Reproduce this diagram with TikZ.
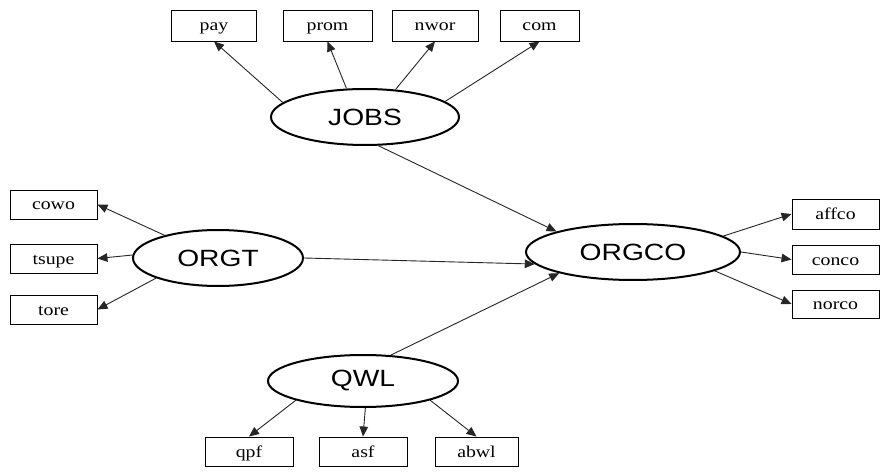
\documentclass[tikz,border=0pt]{standalone}
\usepackage{fontspec}
\newfontfamily\ellfont[FakeStretch=1.2]{Liberation Sans}
\newfontfamily\boxfont[FakeStretch=1.2]{Liberation Serif}
\usetikzlibrary{arrows.meta,shapes.geometric}
\tikzset{
  var/.style={draw, line width=0.9pt, minimum height=29pt, inner sep=0pt,
    text height=11pt, text depth=0pt,
    font=\boxfont\fontsize{16.5}{16.5}\selectfont},
  lat/.style={ellipse, draw, line width=2pt, inner sep=0pt,
    font=\ellfont\fontsize{23.5}{23.5}\selectfont},
  arr/.style={-{Triangle[length=10pt,width=8.5pt]}, line width=0.9pt, draw=black!85}
}
\begin{document}
\begin{tikzpicture}[x=1pt,y=1pt]
\path[use as bounding box, fill=white] (0,0) rectangle (886,472);
% latent nodes
\node[lat, minimum width=188pt, minimum height=56pt] (jobs) at (365,355) {JOBS};
\node[lat, minimum width=170pt, minimum height=56pt] (orgt) at (218,214) {ORGT};
\node[lat, minimum width=214pt, minimum height=56pt] (orgco) at (633,220) {ORGCO};
\node[lat, minimum width=190pt, minimum height=52pt] (qwl) at (363,91) {QWL};
% top boxes
\node[var, minimum width=85pt, minimum height=31pt] (pay) at (214,446.5) {pay};
\node[var, minimum width=89pt, minimum height=31pt] (prom) at (327.5,446.5) {prom};
\node[var, minimum width=86pt, minimum height=31pt] (nwor) at (435,446.5) {nwor};
\node[var, minimum width=79pt, minimum height=31pt] (com) at (539.5,446.5) {com};
% left boxes
\node[var, minimum width=87pt] (cowo) at (53.5,267.5) {cowo};
\node[var, minimum width=87pt] (tsupe) at (53.5,213.5) {tsupe};
\node[var, minimum width=87pt] (tore) at (53.5,162.5) {tore};
% right boxes
\node[var, minimum width=87pt, minimum height=30pt] (affco) at (835.5,258) {affco};
\node[var, minimum width=87pt] (conco) at (835.5,212.5) {conco};
\node[var, minimum width=87pt, minimum height=28pt] (norco) at (835.5,168) {norco};
% bottom boxes
\node[var, minimum width=88pt] (qpf) at (249,20.5) {qpf};
\node[var, minimum width=88pt] (asf) at (363,20.5) {asf};
\node[var, minimum width=83pt] (abwl) at (476.5,20.5) {abwl};
% JOBS indicators
\draw[arr] (jobs.170) -- (pay.south);
\draw[arr] (jobs.123) -- (prom.south);
\draw[arr] (jobs.42) -- (nwor.south);
\draw[arr] (jobs.11) -- (com.south);
% ORGT indicators
\draw[arr] (orgt.157) -- (cowo.east);
\draw[arr] (orgt.178) -- (tsupe.east);
\draw[arr] (orgt.198) -- (tore.east);
% ORGCO indicators
\draw[arr] (orgco.10) -- (affco.west);
\draw[arr] (orgco.0) -- (conco.west);
\draw[arr] (orgco.-13) -- (norco.west);
% QWL indicators
\draw[arr] (qwl.196) -- (qpf.north);
\draw[arr] (qwl.-85) -- (asf.north);
\draw[arr] (qwl.-16) -- (abwl.north);
% structural paths
\draw[arr] (jobs.-65) -- (orgco.165);
\draw[arr] (orgt.0) -- (orgco.187);
\draw[arr] (qwl.43) -- (orgco.196);
\end{tikzpicture}
\end{document}
